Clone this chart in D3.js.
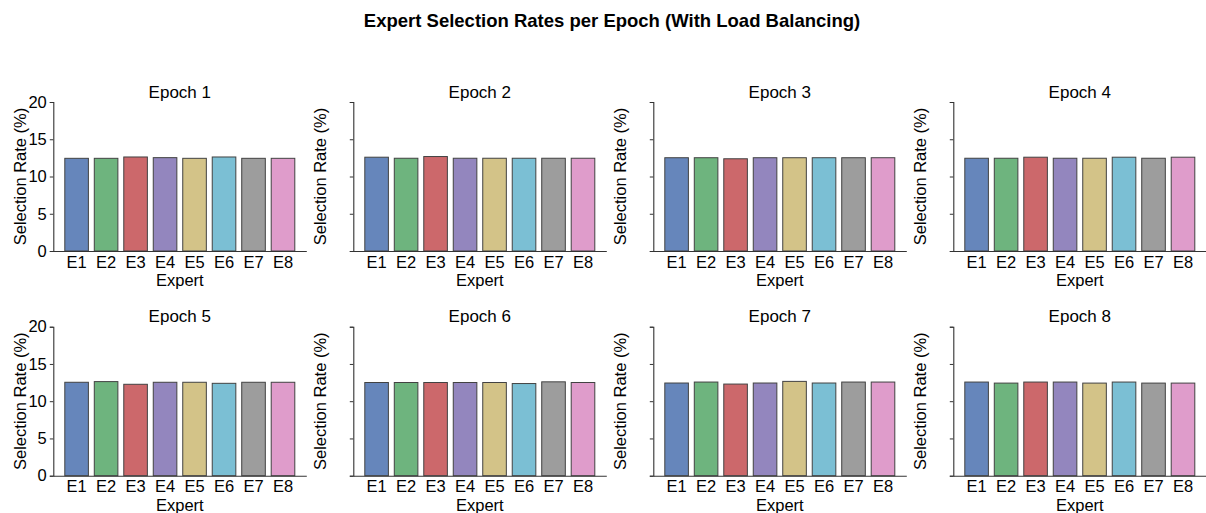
<!DOCTYPE html>
<html>
<head>
<meta charset="utf-8">
<script src="https://cdn.jsdelivr.net/npm/d3@7"></script>
<style>
  html, body { margin: 0; padding: 0; background: #fff; }
  svg { display: block; font-family: "Liberation Sans", Arial, sans-serif; }
</style>
</head>
<body>
<svg id="chart" width="1206" height="513"></svg>
<script>
// Expert names and per-epoch selection rates (%)
const experts = ["E1", "E2", "E3", "E4", "E5", "E6", "E7", "E8"];
const epochs = ["Epoch 1", "Epoch 2", "Epoch 3", "Epoch 4", "Epoch 5", "Epoch 6", "Epoch 7", "Epoch 8"];
const epoch1 = [12.44, 12.44, 12.62, 12.53, 12.44, 12.62, 12.44, 12.44];
const epoch2 = [12.59, 12.45, 12.68, 12.45, 12.45, 12.45, 12.45, 12.45];
const epoch3 = [12.52, 12.52, 12.38, 12.52, 12.52, 12.52, 12.52, 12.52];
const epoch4 = [12.45, 12.45, 12.59, 12.45, 12.45, 12.59, 12.45, 12.59];
const epoch5 = [12.54, 12.63, 12.27, 12.54, 12.54, 12.40, 12.54, 12.54];
const epoch6 = [12.51, 12.51, 12.51, 12.51, 12.51, 12.37, 12.60, 12.51];
const epoch7 = [12.44, 12.57, 12.30, 12.44, 12.66, 12.44, 12.57, 12.57];
const epoch8 = [12.57, 12.43, 12.57, 12.57, 12.43, 12.57, 12.43, 12.43];
const rates = [epoch1, epoch2, epoch3, epoch4, epoch5, epoch6, epoch7, epoch8];
const yTicks = [0, 5, 10, 15, 20];
const colors = ["#4c72b0", "#55a868", "#c44e52", "#8172b3", "#ccb974", "#64b5cd", "#8c8c8c", "#da8bc3"];

const svg = d3.select("#chart");

svg.append("text")
  .attr("x", 612).attr("y", 26.5)
  .attr("text-anchor", "middle")
  .attr("font-size", 18.5).attr("font-weight", "bold")
  .attr("fill", "#000")
  .text("Expert Selection Rates per Epoch (With Load Balancing)");

const panelW = 253, panelH = 149;
const lefts = [53.3, 353.3, 653.3, 953.3];
const bottoms = [251, 475.7];

const y0 = d3.scaleLinear().domain([0, 20]);

epochs.forEach((name, k) => {
  const col = k % 4, row = Math.floor(k / 4);
  const left = lefts[col], bottom = bottoms[row], top = bottom - panelH;

  const x = d3.scaleBand().domain(experts)
    .range([left, left + panelW])
    .paddingInner(0.2).paddingOuter(0.39);
  const y = y0.copy().range([bottom, top]);

  const g = svg.append("g");

  // bars
  g.selectAll("rect")
    .data(experts.map((e, i) => ({ e, v: rates[k][i], c: colors[i] })))
    .join("rect")
    .attr("x", d => x(d.e))
    .attr("width", x.bandwidth())
    .attr("y", d => y(d.v))
    .attr("height", d => y(0) - y(d.v))
    .attr("fill", d => d.c)
    .attr("stroke", "#222")
    .attr("stroke-width", 1)
    .attr("opacity", 0.85);

  // y axis: labels only on the first column
  const yAxis = d3.axisLeft(y).tickValues(yTicks).tickSize(3.5).tickPadding(3)
    .tickFormat(col === 0 ? d3.format("d") : () => "");
  const ya = g.append("g").attr("transform", `translate(${left},0)`).call(yAxis);
  ya.select(".domain").attr("stroke", "#333").attr("stroke-width", 1.1);
  ya.selectAll(".tick line").attr("stroke", "#333");
  ya.selectAll(".tick text").attr("font-size", 16.5).attr("fill", "#000")
    .attr("font-family", "Liberation Sans, Arial, sans-serif");

  // x axis
  const xAxis = d3.axisBottom(x).tickSize(0).tickPadding(5);
  const xa = g.append("g").attr("transform", `translate(0,${bottom})`).call(xAxis);
  xa.select(".domain").attr("stroke", "#333").attr("stroke-width", 1.1);
  xa.selectAll(".tick text").attr("font-size", 16.5).attr("fill", "#000")
    .attr("font-family", "Liberation Sans, Arial, sans-serif");

  // panel title
  g.append("text")
    .attr("x", left + panelW / 2).attr("y", top - 4.5)
    .attr("text-anchor", "middle").attr("font-size", 17).attr("fill", "#000")
    .text(name);

  // axis labels
  g.append("text")
    .attr("x", left + panelW / 2).attr("y", bottom + 35)
    .attr("text-anchor", "middle").attr("font-size", 16.5).attr("fill", "#000")
    .text("Expert");

  g.append("text")
    .attr("transform", `translate(${left - 27},${(top + bottom) / 2}) rotate(-90)`)
    .attr("text-anchor", "middle").attr("font-size", 16.5).attr("fill", "#000")
    .text("Selection Rate (%)");
});
</script>
</body>
</html>
